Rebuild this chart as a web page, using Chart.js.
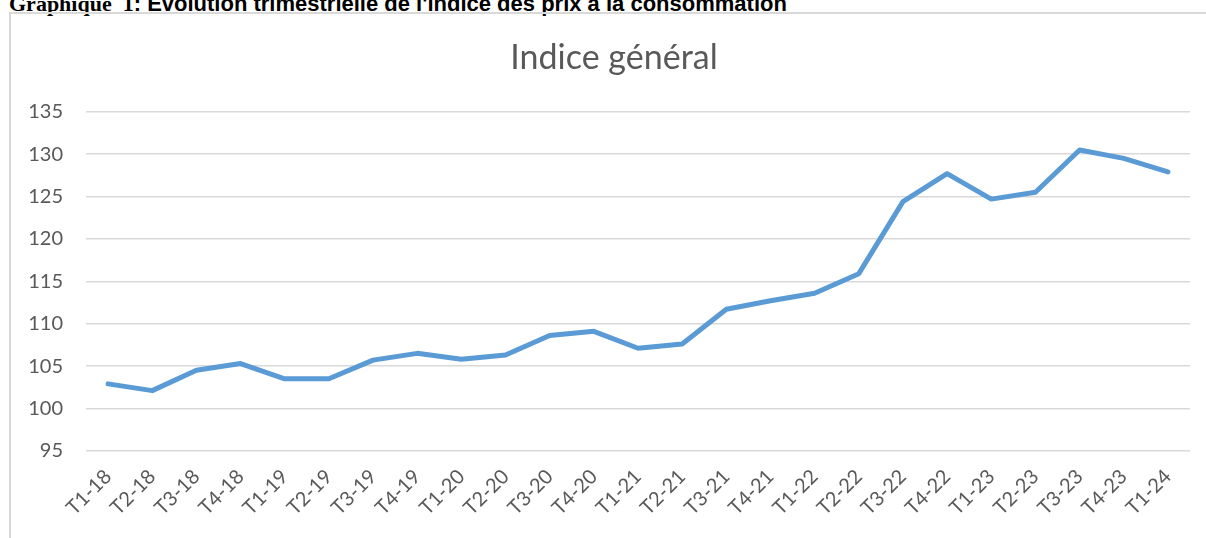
<!DOCTYPE html>
<html>
<head>
<meta charset="utf-8">
<script src="https://cdn.jsdelivr.net/npm/chart.js@4"></script>
<style>
  html, body { margin: 0; padding: 0; background: #fff; overflow: hidden; }
  body { width: 1206px; height: 538px; position: relative; }
  #hdr { position: absolute; left: 9px; top: -7px; white-space: pre; line-height: 22px; color: #000; }
  #hdr .g { font-family: "Liberation Serif", "Times New Roman", serif; font-weight: bold; font-size: 22px; }
  #hdr .s { font-family: "Liberation Sans", Arial, sans-serif; font-weight: bold; font-size: 22px; }
  #frame { position: absolute; left: 9px; top: 12px; width: 1210px; height: 540px;
           border-left: 2px solid #d9d9d9; border-top: 2px solid #d9d9d9; }
  #wrap { position: absolute; left: 0; top: 0; width: 1210px; height: 524px; }
</style>
</head>
<body>
<div id="hdr"><span class="g">Graphique  1</span><span class="s">: Evolution trimestrielle de l'indice des prix à la consommation</span></div>
<div id="frame">
  <div id="wrap"><canvas id="ipc"></canvas></div>
</div>
<script>
// trimestres
var trimestres = ['T1-18','T2-18','T3-18','T4-18','T1-19','T2-19','T3-19','T4-19',
  'T1-20','T2-20','T3-20','T4-20','T1-21','T2-21','T3-21','T4-21',
  'T1-22','T2-22','T3-22','T4-22','T1-23','T2-23','T3-23','T4-23','T1-24'];

// indice general des prix
var indiceGeneral = [102.9, 102.1, 104.5, 105.3, 103.5, 103.5, 105.7, 106.5,
  105.8, 106.3, 108.6, 109.1, 107.1, 107.6, 111.7, 112.7,
  113.6, 115.9, 124.4, 127.7, 124.7, 125.5, 130.5, 129.5, 127.9];

var yMin = 95, yMax = 135, yStep = 5;

var gris = '#595959';
var police = 'Lato, "Open Sans", sans-serif';

var config = {
  type: 'line',
  data: {
    labels: trimestres,
    datasets: [{
      label: 'Indice général',
      data: indiceGeneral,
      borderColor: '#5b9bd5',
      borderWidth: 5,
      borderCapStyle: 'round',
      borderJoinStyle: 'round',
      pointRadius: 0,
      tension: 0,
      fill: false
    }]
  },
  options: {
    responsive: true,
    maintainAspectRatio: false,
    animation: false,
    layout: { padding: { left: 17, right: 21, top: 24, bottom: 12 } },
    scales: {
      x: {
        offset: true,
        grid: { display: false },
        border: { display: false },
        // les etiquettes inclinees ne doivent pas pousser la zone du graphique
        afterFit: function (s) { s.paddingLeft = 0; s.paddingRight = 0; },
        ticks: {
          color: gris,
          font: { family: police, size: 20 },
          minRotation: 45,
          maxRotation: 45,
          autoSkip: false,
          padding: 6
        }
      },
      y: {
        min: yMin,
        max: yMax,
        grid: { color: '#d9d9d9', lineWidth: 1.5, drawTicks: false },
        border: { display: false },
        afterFit: function (s) { s.width = 58; },
        ticks: {
          stepSize: yStep,
          color: gris,
          font: { family: police, size: 20 },
          padding: 23
        }
      },
      // axe vide a droite : juste une marge pour garder le titre centre
      marge: {
        position: 'right',
        min: yMin,
        max: yMax,
        grid: { display: false },
        border: { display: false },
        ticks: { display: false },
        afterFit: function (s) { s.width = 10; }
      }
    },
    plugins: {
      legend: { display: false },
      tooltip: { enabled: false },
      title: {
        display: true,
        text: 'Indice général',
        color: gris,
        font: { family: police, size: 34, weight: 'normal' },
        padding: { top: 0, bottom: 33 }
      }
    }
  }
};

new Chart(document.getElementById('ipc'), config);
</script>
</body>
</html>
